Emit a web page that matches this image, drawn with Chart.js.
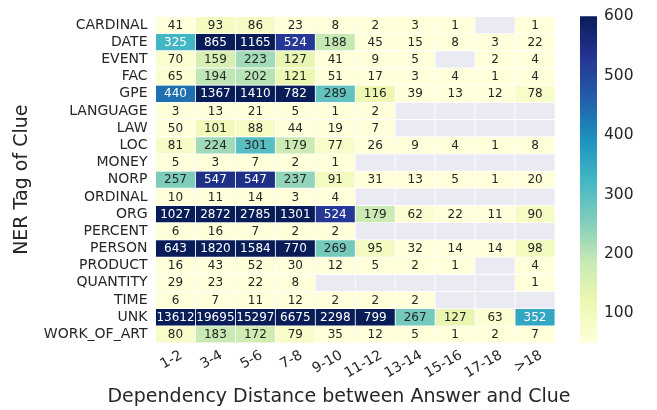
<!DOCTYPE html>
<html>
<head>
<meta charset="utf-8">
<script src="https://cdn.jsdelivr.net/npm/chart.js@4.4.1/dist/chart.umd.min.js"></script>
<style>
  html, body { margin: 0; padding: 0; background: #fff; }
  #wrap { position: relative; width: 657px; height: 410px; }
  #heat { position: absolute; left: 0; top: 0; }
  #bar { position: absolute; left: 560px; top: 0; }
</style>
</head>
<body>
<div id="wrap">
  <canvas id="heat" width="657" height="410"></canvas>
  <canvas id="bar" width="97" height="410"></canvas>
</div>
<script>
// distance buckets (columns) and NER tags (rows)
const distances = ['1-2','3-4','5-6','7-8','9-10','11-12','13-14','15-16','17-18','>18'];
const tags = ['CARDINAL','DATE','EVENT','FAC','GPE','LANGUAGE','LAW','LOC','MONEY','NORP',
              'ORDINAL','ORG','PERCENT','PERSON','PRODUCT','QUANTITY','TIME','UNK','WORK_OF_ART'];

// counts per tag, null = no data
const cardinal  = [41, 93, 86, 23, 8, 2, 3, 1, null, 1];
const date      = [325, 865, 1165, 524, 188, 45, 15, 8, 3, 22];
const eventTag  = [70, 159, 223, 127, 41, 9, 5, null, 2, 4];
const fac       = [65, 194, 202, 121, 51, 17, 3, 4, 1, 4];
const gpe       = [440, 1367, 1410, 782, 289, 116, 39, 13, 12, 78];
const language  = [3, 13, 21, 5, 1, 2, null, null, null, null];
const law       = [50, 101, 88, 44, 19, 7, null, null, null, null];
const loc       = [81, 224, 301, 179, 77, 26, 9, 4, 1, 8];
const money     = [5, 3, 7, 2, 1, null, null, null, null, null];
const norp      = [257, 547, 547, 237, 91, 31, 13, 5, 1, 20];
const ordinal   = [10, 11, 14, 3, 4, null, null, null, null, null];
const org       = [1027, 2872, 2785, 1301, 524, 179, 62, 22, 11, 90];
const percent   = [6, 16, 7, 2, 2, null, null, null, null, null];
const person    = [643, 1820, 1584, 770, 269, 95, 32, 14, 14, 98];
const product   = [16, 43, 52, 30, 12, 5, 2, 1, null, 4];
const quantity  = [29, 23, 22, 8, null, null, null, null, null, 1];
const time      = [6, 7, 11, 12, 2, 2, 2, null, null, null];
const unk       = [13612, 19695, 15297, 6675, 2298, 799, 267, 127, 63, 352];
const workOfArt = [80, 183, 172, 79, 35, 12, 5, 1, 2, 7];

const rows = [cardinal, date, eventTag, fac, gpe, language, law, loc, money, norp,
              ordinal, org, percent, person, product, quantity, time, unk, workOfArt];

const cbTicks = [100, 200, 300, 400, 500, 600];
const vmin = 50, vmax = 600;

// YlGnBu
const cmap = ['#ffffd9','#edf8b1','#c7e9b4','#7fcdbb','#41b6c4','#1d91c0','#225ea8','#253494','#081d58'];
const missing = '#eaeaf2';
const ink = '#262626';
const FONT = "'DejaVu Sans', sans-serif";

function hexRgb(h) {
    return [parseInt(h.substr(1,2),16), parseInt(h.substr(3,2),16), parseInt(h.substr(5,2),16)];
}
function colorFor(v) {
    let t = (v - vmin) / (vmax - vmin);
    t = Math.max(0, Math.min(1, t));
    const p = t * (cmap.length - 1);
    const i = Math.min(Math.floor(p), cmap.length - 2);
    const f = p - i;
    const a = hexRgb(cmap[i]), b = hexRgb(cmap[i+1]);
    return a.map((c, k) => Math.round(c + (b[k] - c) * f));
}
function lum(rgb) {
    const l = rgb.map(c => {
        c = c / 255;
        return c <= 0.03928 ? c / 12.92 : Math.pow((c + 0.055) / 1.055, 2.4);
    });
    return 0.2126*l[0] + 0.7152*l[1] + 0.0722*l[2];
}

const datasets = rows.map(function(vals, r) {
    return {
        label: tags[r],
        data: distances.map(() => [r, r + 1]),
        counts: vals,
        backgroundColor: vals.map(v => v == null ? missing : 'rgb(' + colorFor(v).join(',') + ')'),
        borderColor: '#ffffff',
        borderWidth: 0.75,
        borderSkipped: false,
        grouped: false,
        barPercentage: 1,
        categoryPercentage: 1,
        yAxisID: 'yv'
    };
});

const cellText = {
    id: 'cellText',
    afterDatasetsDraw(chart) {
        const ctx = chart.ctx;
        ctx.save();
        ctx.font = '12px ' + FONT;
        ctx.textAlign = 'center';
        ctx.textBaseline = 'middle';
        chart.data.datasets.forEach(function(ds, i) {
            chart.getDatasetMeta(i).data.forEach(function(el, j) {
                const v = ds.counts[j];
                if (v == null) return;
                ctx.fillStyle = lum(colorFor(v)) > 0.408 ? ink : '#ffffff';
                ctx.fillText(String(v), el.x, (el.y + el.base) / 2 + 0.5);
            });
        });
        ctx.restore();
    }
};

// axis titles drawn by hand so they are not squeezed to the scale width
const axisTitles = {
    id: 'axisTitles',
    afterDraw(chart) {
        const ctx = chart.ctx;
        const area = chart.chartArea;
        ctx.save();
        ctx.fillStyle = ink;
        ctx.font = '19px ' + FONT;
        ctx.textAlign = 'center';
        ctx.textBaseline = 'middle';
        ctx.fillText('Dependency Distance between Answer and Clue', 339, 397);
        ctx.translate(22, (area.top + area.bottom) / 2);
        ctx.rotate(-Math.PI / 2);
        ctx.fillText('NER Tag of Clue', 0, 0);
        ctx.restore();
    }
};

new Chart(document.getElementById('heat'), {
    type: 'bar',
    data: { labels: distances, datasets: datasets },
    options: {
        responsive: false,
        animation: false,
        layout: { padding: { left: 0, right: 102, top: 11, bottom: 0 } },
        plugins: { legend: { display: false }, tooltip: { enabled: false } },
        scales: {
            x: {
                type: 'category',
                grid: { display: false, drawTicks: false },
                border: { display: false },
                ticks: { color: ink, font: { family: FONT, size: 14 }, minRotation: 30, maxRotation: 30,
                         autoSkip: false, padding: 4, labelOffset: 6 },
                afterFit: s => { s.height = 67; }
            },
            yv: {
                type: 'linear', display: false, min: 0, max: tags.length, reverse: true
            },
            y: {
                type: 'category', labels: tags, position: 'left', offset: true,
                min: tags[0], max: tags[tags.length - 1],
                grid: { display: false, drawTicks: false },
                border: { display: false },
                ticks: { color: ink, font: { family: FONT, size: 14 }, padding: 8, autoSkip: false },
                afterFit: s => { s.width = 155.5; }
            }
        }
    },
    plugins: [cellText, axisTitles]
});

// colour bar
new Chart(document.getElementById('bar'), {
    type: 'bar',
    data: {
        labels: ['cb'],
        datasets: [{
            data: [[vmin, vmax]],
            barPercentage: 1,
            categoryPercentage: 1,
            borderWidth: 0,
            backgroundColor: function(c) {
                const area = c.chart.chartArea;
                if (!area) return cmap[0];
                const g = c.chart.ctx.createLinearGradient(0, area.bottom, 0, area.top);
                cmap.forEach((col, i) => g.addColorStop(i / (cmap.length - 1), col));
                return g;
            }
        }]
    },
    options: {
        responsive: false,
        animation: false,
        layout: { padding: { left: 20, right: 0, top: 10, bottom: 67 } },
        plugins: { legend: { display: false }, tooltip: { enabled: false } },
        scales: {
            x: { display: false },
            y: {
                position: 'right', min: vmin, max: vmax,
                grid: { display: false, drawTicks: false },
                border: { display: false },
                ticks: { color: ink, font: { family: FONT, size: 15.5 }, padding: 7 },
                afterBuildTicks: s => { s.ticks = cbTicks.map(v => ({ value: v })); },
                afterFit: s => { s.width = 60; }
            }
        }
    }
});
</script>
</body>
</html>
